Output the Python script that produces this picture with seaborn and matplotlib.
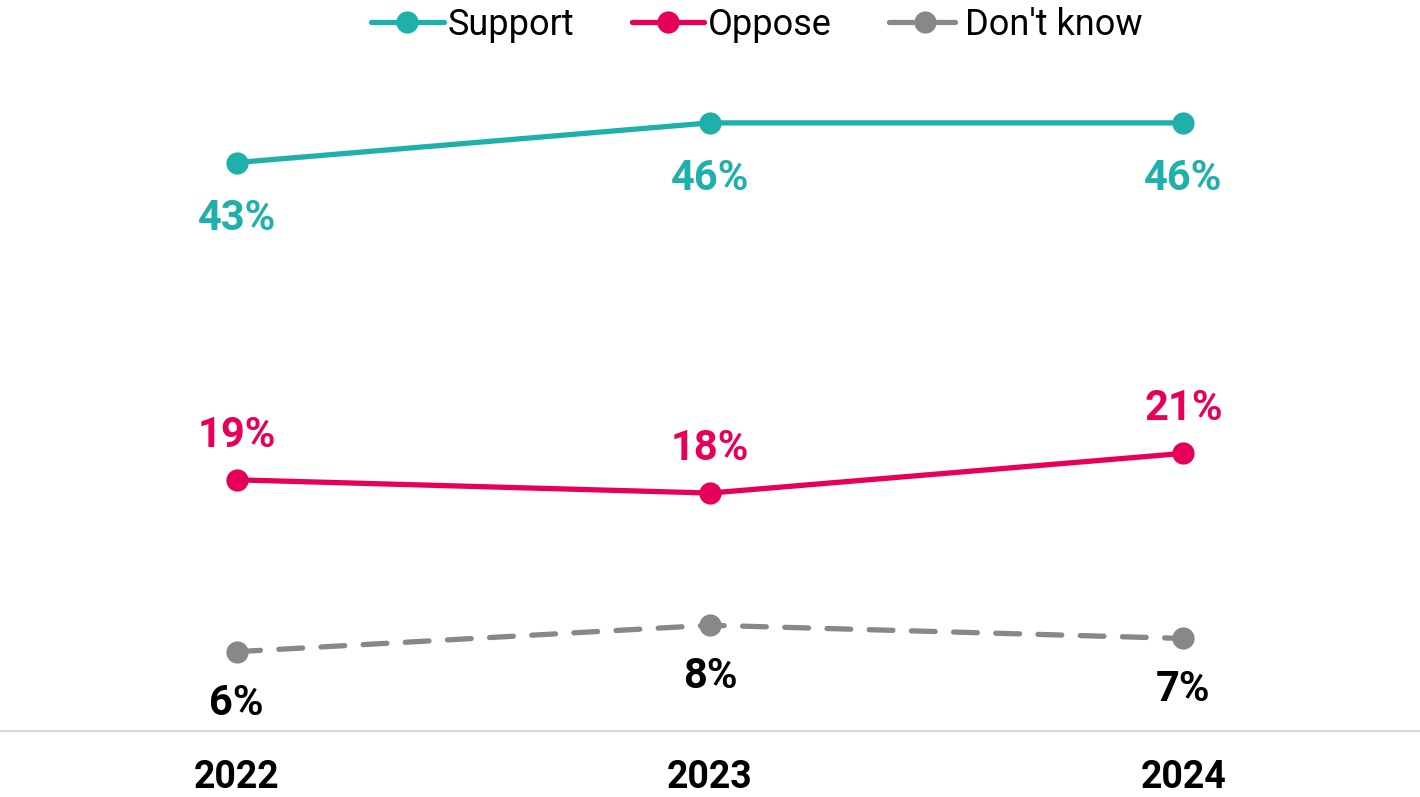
import matplotlib
matplotlib.use('Agg')
import matplotlib.pyplot as plt
import seaborn as sns
import pandas as pd

sns.set_theme(style='white')
plt.rcParams['font.family'] = ['Roboto', 'DejaVu Sans']

years = ['2022', '2023', '2024']
support = [43, 46, 46]
oppose = [19, 18, 21]
dont_know = [6, 8, 7]
series_names = ['Support', 'Oppose', "Don't know"]

TEAL = '#1fb0ac'
PINK = '#e6005a'
GREY = '#888888'
palette = {'Support': TEAL, 'Oppose': PINK, "Don't know": GREY}
dashes = {'Support': '', 'Oppose': '', "Don't know": (4.5, 3.5)}

df = pd.DataFrame({
    'year': years * 3,
    'x': list(range(len(years))) * 3,
    'value': support + oppose + dont_know,
    'series': [s for s in series_names for _ in years],
})

fig = plt.figure(figsize=(14.2, 7.97), dpi=100)
ax = fig.add_axes([0, 66 / 797, 1, 661 / 797])

sns.lineplot(data=df, x='x', y='value', hue='series', style='series',
             hue_order=series_names, style_order=series_names,
             palette=palette, dashes=dashes, markers={s: 'o' for s in series_names},
             markersize=16, markeredgewidth=0, linewidth=3.8, ax=ax)
for line in ax.lines:
    line.set_dash_capstyle('round')
    line.set_solid_capstyle('round')

# data labels
offsets = {'Support': -40, 'Oppose': 32, "Don't know": -37}
label_colors = {'Support': TEAL, 'Oppose': PINK, "Don't know": '#000000'}
for name, vals in zip(series_names, [support, oppose, dont_know]):
    for i, v in enumerate(vals):
        ax.annotate(f'{v}%', (i, v), xytext=(0, offsets[name]), textcoords='offset points',
                    ha='center', va='center', fontsize=30, fontweight='bold',
                    color=label_colors[name])

ax.set_xlim(-0.5, len(years) - 0.5)
ax.set_ylim(0, 50)
ax.set_xticks(range(len(years)))
ax.set_xticklabels(years, fontsize=27, fontweight='bold', color='#000000')
ax.tick_params(axis='x', length=0, pad=20)
ax.set_yticks([])
ax.set_xlabel('')
ax.set_ylabel('')
for side in ['top', 'left', 'right']:
    ax.spines[side].set_visible(False)
ax.spines['bottom'].set_color('#d9d9d9')
ax.spines['bottom'].set_linewidth(1.5)

handles, labels = ax.get_legend_handles_labels()
leg = ax.legend(handles, labels, loc='upper center', bbox_to_anchor=(0.533, 1.145), ncol=3,
                frameon=False, fontsize=26, handlelength=2.0, handletextpad=0.1,
                columnspacing=1.6)
for t in leg.get_texts():
    t.set_color('#000000')

plt.savefig('out.png', dpi=100)
